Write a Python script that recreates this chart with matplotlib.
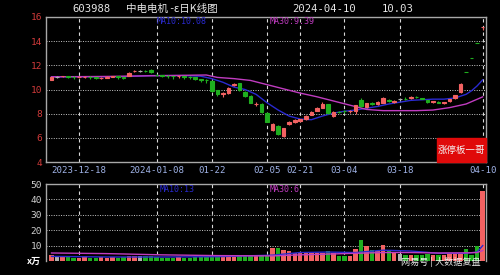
import matplotlib
matplotlib.use("Agg")
import matplotlib.pyplot as plt
from matplotlib.patches import Rectangle
import numpy as np

plt.rcParams['font.family'] = ['DejaVu Sans Mono', 'Noto Sans CJK SC']
CJK = ['Noto Sans CJK SC', 'DejaVu Sans']

# daily candles, 2023-12-11 .. 2024-04-10 (trading days)
opens = [10.80, 11.05, 11.08, 11.10, 11.05, 11.00, 11.02, 11.05, 11.00, 10.95,
         10.98, 11.05, 11.10, 11.00, 11.15, 11.50, 11.55, 11.55, 11.65, 11.20,
         11.18, 11.15, 11.10, 11.08, 11.10, 11.05, 11.00, 10.85, 10.80, 10.70,
         9.95, 9.65, 9.67, 10.38, 10.50, 9.78, 9.50, 8.82, 8.83, 8.09,
         6.64, 6.99, 6.17, 7.13, 7.27, 7.38, 7.54, 7.89, 8.22, 8.50,
         8.77, 7.81, 8.14, 8.20, 8.18, 8.22, 9.10, 8.58, 8.85, 8.77,
         8.91, 9.12, 8.95, 9.20, 9.25, 9.32, 9.36, 9.26, 9.10, 8.98,
         9.00, 8.85, 9.05, 9.26, 9.81, 11.46, 12.61, 13.86, 15.19]
closes = [11.00, 11.05, 11.10, 11.06, 11.00, 11.02, 11.05, 11.00, 10.95, 10.97,
          11.05, 11.10, 11.00, 10.92, 11.40, 11.55, 11.55, 11.50, 11.42, 11.18,
          11.15, 11.10, 11.08, 11.10, 11.05, 11.00, 10.90, 10.80, 10.75, 9.88,
          9.60, 9.67, 10.14, 10.42, 9.95, 9.45, 8.90, 8.84, 8.14, 7.32,
          7.13, 6.31, 6.78, 7.30, 7.50, 7.54, 7.81, 8.14, 8.50, 8.77,
          8.09, 8.14, 8.12, 8.18, 8.20, 8.71, 8.63, 8.85, 8.84, 8.99,
          9.32, 9.08, 9.05, 9.20, 9.24, 9.36, 9.35, 9.25, 8.95, 9.02,
          8.90, 8.96, 9.20, 9.53, 10.49, 11.45, 12.60, 13.85, 15.20]
highs = [11.05, 11.12, 11.15, 11.12, 11.08, 11.10, 11.10, 11.08, 11.05, 11.05,
         11.10, 11.15, 11.12, 11.05, 11.45, 11.60, 11.62, 11.60, 11.70, 11.28,
         11.22, 11.20, 11.15, 11.15, 11.12, 11.10, 11.05, 10.90, 10.85, 10.75,
         10.00, 9.80, 10.20, 10.55, 10.55, 9.85, 9.55, 9.00, 8.88, 8.10,
         7.25, 7.05, 6.82, 7.38, 7.55, 7.60, 7.85, 8.20, 8.58, 8.95,
         8.80, 8.18, 8.22, 8.30, 8.30, 8.75, 9.30, 8.90, 8.95, 9.05,
         9.40, 9.20, 9.10, 9.28, 9.35, 9.45, 9.45, 9.32, 9.15, 9.08,
         9.05, 9.00, 9.25, 9.58, 10.52, 11.46, 12.61, 13.86, 15.20]
lows = [10.75, 10.98, 11.00, 10.95, 10.90, 10.95, 10.95, 10.85, 10.85, 10.88,
        10.92, 11.00, 10.90, 10.85, 11.10, 11.45, 11.48, 11.45, 11.38, 11.10,
        11.05, 10.95, 10.90, 10.95, 10.90, 10.85, 10.80, 10.60, 10.55, 9.80,
        9.45, 9.40, 9.60, 10.25, 9.90, 9.40, 8.85, 8.65, 8.05, 7.30,
        6.55, 6.25, 6.05, 7.05, 7.20, 7.30, 7.50, 7.85, 8.18, 8.45,
        8.00, 7.75, 8.02, 8.05, 8.05, 7.95, 8.55, 8.50, 8.75, 8.70,
        8.85, 8.98, 8.88, 9.12, 9.15, 9.25, 9.28, 9.18, 8.90, 8.92,
        8.85, 8.80, 9.00, 9.20, 9.75, 11.45, 12.60, 13.85, 14.95]
volumes = [4.0, 3.5, 2.5, 2.5, 2.0, 2.0, 3.0, 2.0, 2.0, 2.5,
           2.0, 2.5, 2.0, 2.5, 3.5, 3.0, 3.0, 3.0, 3.5, 2.5,
           2.0, 2.0, 2.0, 2.5, 2.0, 2.0, 2.5, 2.5, 2.5, 3.5,
           3.0, 2.5, 3.0, 2.5, 3.0, 3.5, 3.5, 3.0, 3.0, 3.5,
           8.6, 8.6, 7.3, 6.2, 5.3, 5.0, 5.0, 5.0, 5.0, 5.5,
           6.5, 5.0, 3.0, 3.0, 3.0, 7.9, 13.6, 9.8, 7.3, 6.8,
           10.6, 6.8, 5.0, 4.5, 4.0, 4.0, 4.0, 4.0, 4.5, 4.0,
           4.0, 4.0, 4.5, 4.5, 5.5, 7.9, 4.0, 9.7, 45.6]

# moving averages
ma_idx = [0, 6, 12, 18, 24, 27, 29, 31, 33, 35, 37, 39, 41, 43, 45, 47, 49, 51,
          53, 55, 57, 59, 61, 63, 65, 67, 69, 71, 73, 75, 76, 77, 78]
ma10 = [11.05, 11.05, 11.05, 11.15, 11.15, 11.1, 10.9, 10.6, 10.2, 10.0, 9.6, 8.9,
        8.3, 7.8, 7.55, 7.5, 7.8, 8.05, 8.2, 8.3, 8.45, 8.6, 8.8, 8.95, 9.1,
        9.15, 9.2, 9.2, 9.3, 9.6, 9.9, 10.3, 10.8]
ma30_idx = [0, 10, 20, 28, 30, 33, 36, 39, 42, 45, 48, 51, 54, 57, 60, 63, 66,
            69, 72, 75, 78]
ma30 = [11.05, 11.08, 11.15, 11.2, 11.0, 10.9, 10.75, 10.4, 10.05, 9.7, 9.4,
        9.05, 8.7, 8.35, 8.25, 8.25, 8.25, 8.3, 8.5, 8.8, 9.39]
vma_idx = [0, 10, 20, 30, 40, 45, 50, 55, 60, 65, 70, 75, 77, 78]
vma10 = [3.0, 2.6, 2.6, 2.8, 3.8, 5.5, 5.8, 5.5, 7.0, 6.5, 5.0, 5.0, 5.8, 10.0]
vma30 = [5.2, 4.8, 4.0, 3.5, 3.3, 4.0, 4.5, 5.0, 5.5, 5.5, 5.2, 5.3, 5.5, 6.8]

tick_idx = [5, 19, 29, 39, 45, 53, 63, 78]
tick_labels = ["2023-12-18", "2024-01-08", "01-22", "02-05", "02-21",
               "03-04", "03-18", "04-10"]

RED = '#f26262'
GREEN = '#1fae1f'
GRAY = '#b0b0b0'
BLUE = '#2a2ad0'
PURPLE = '#c03cc0'

W, H = 500, 275
fig = plt.figure(figsize=(5, 2.75), dpi=100, facecolor='black')


def px_axes(left, top, right, bottom):
    return fig.add_axes([left / W, 1 - bottom / H, (right - left) / W, (bottom - top) / H])


ax = px_axes(46, 17, 486, 162)
axv = px_axes(46, 184, 486, 261)

x = np.arange(len(closes))
o = np.array(opens)
c = np.array(closes)
colors = np.where(c > o, RED, np.where(c < o, GREEN, GRAY))

for a in (ax, axv):
    a.set_facecolor('black')
    a.set_xlim(-1, 78.6)
    a.set_xticks(tick_idx)
    a.grid(axis='x', color='#d8d8d8', linestyle=(0, (3, 3)), linewidth=0.8)
    a.grid(axis='y', color='#c8c8c8', linestyle=(0, (1, 1.5)), linewidth=0.7)
    a.set_axisbelow(True)
    for s in a.spines.values():
        s.set_color('#a8a8a8')
        s.set_linewidth(1)
    a.tick_params(length=0)

# price panel
ax.vlines(x, lows, highs, colors=colors, linewidth=0.8, zorder=3)
ax.bar(x, np.abs(c - o), bottom=np.minimum(o, c), width=0.65, color=colors,
       edgecolor=colors, linewidth=0.8, zorder=3)
ax.plot(ma_idx, ma10, color=BLUE, linewidth=1.0, zorder=2)
ax.plot(ma30_idx, ma30, color=PURPLE, linewidth=1.0, zorder=2)
ax.set_ylim(4, 16)
ax.set_yticks([4, 6, 8, 10, 12, 14, 16])
ax.tick_params(axis='y', colors='#d03a3a', labelsize=6.8, pad=3)
ax.set_xticklabels(tick_labels)
ax.tick_params(axis='x', colors='#9fb2e6', labelsize=6.6, pad=3)

# volume panel
axv.bar(x, volumes, width=0.8, color=colors, linewidth=0, zorder=3)
axv.plot(vma_idx, vma10, color=BLUE, linewidth=1.0, zorder=4)
axv.plot(vma_idx, vma30, color=PURPLE, linewidth=1.0, zorder=4)
axv.set_ylim(0, 50)
axv.set_yticks([10, 20, 30, 40, 50])
axv.tick_params(axis='y', colors='#cfcfcf', labelsize=6.8, pad=3)
axv.set_xticklabels([])
axv.spines['bottom'].set_visible(False)

# header
fig.text(72 / W, 1 - 9 / H, "603988", color='#e6e6e6', fontsize=7.6, va='center')
fig.text(126 / W, 1 - 9 / H, "中电电机 -ε日K线图", color='#e6e6e6', fontsize=7.6,
         va='center', family=CJK)
fig.text(292 / W, 1 - 9 / H, "2024-04-10", color='#e6e6e6', fontsize=7.6, va='center')
fig.text(382 / W, 1 - 9 / H, "10.03", color='#e6e6e6', fontsize=7.6, va='center')

# MA legends
fig.text(157 / W, 1 - 22 / H, "MA10:10.08", color=BLUE, fontsize=6, va='center')
fig.text(270 / W, 1 - 22 / H, "MA30:9.39", color=PURPLE, fontsize=6, va='center')
fig.text(160 / W, 1 - 189 / H, "MA10:13", color=BLUE, fontsize=6, va='center')
fig.text(270 / W, 1 - 189 / H, "MA30:6", color=PURPLE, fontsize=6, va='center')

fig.text(27 / W, 1 - 261 / H, "x万", color='white', fontsize=6.5, weight='bold',
         va='center', family=CJK)

# red badge
fig.add_artist(Rectangle((437 / W, 1 - 162 / H), 49 / W, 24 / H,
                         transform=fig.transFigure, color='#e00a0a', zorder=5))
fig.text(461.5 / W, 1 - 150 / H, "涨停板一哥", color='#f4f4f4', fontsize=6.8,
         ha='center', va='center', family=CJK, zorder=6)

# watermark
fig.text(441 / W, 1 - 262 / H, "网易号 | 大数据复盘", color='white', fontsize=6.6,
         ha='center', va='center', family=CJK, alpha=0.9, zorder=6)

fig.savefig("out.png", dpi=100, facecolor='black')
plt.close(fig)
